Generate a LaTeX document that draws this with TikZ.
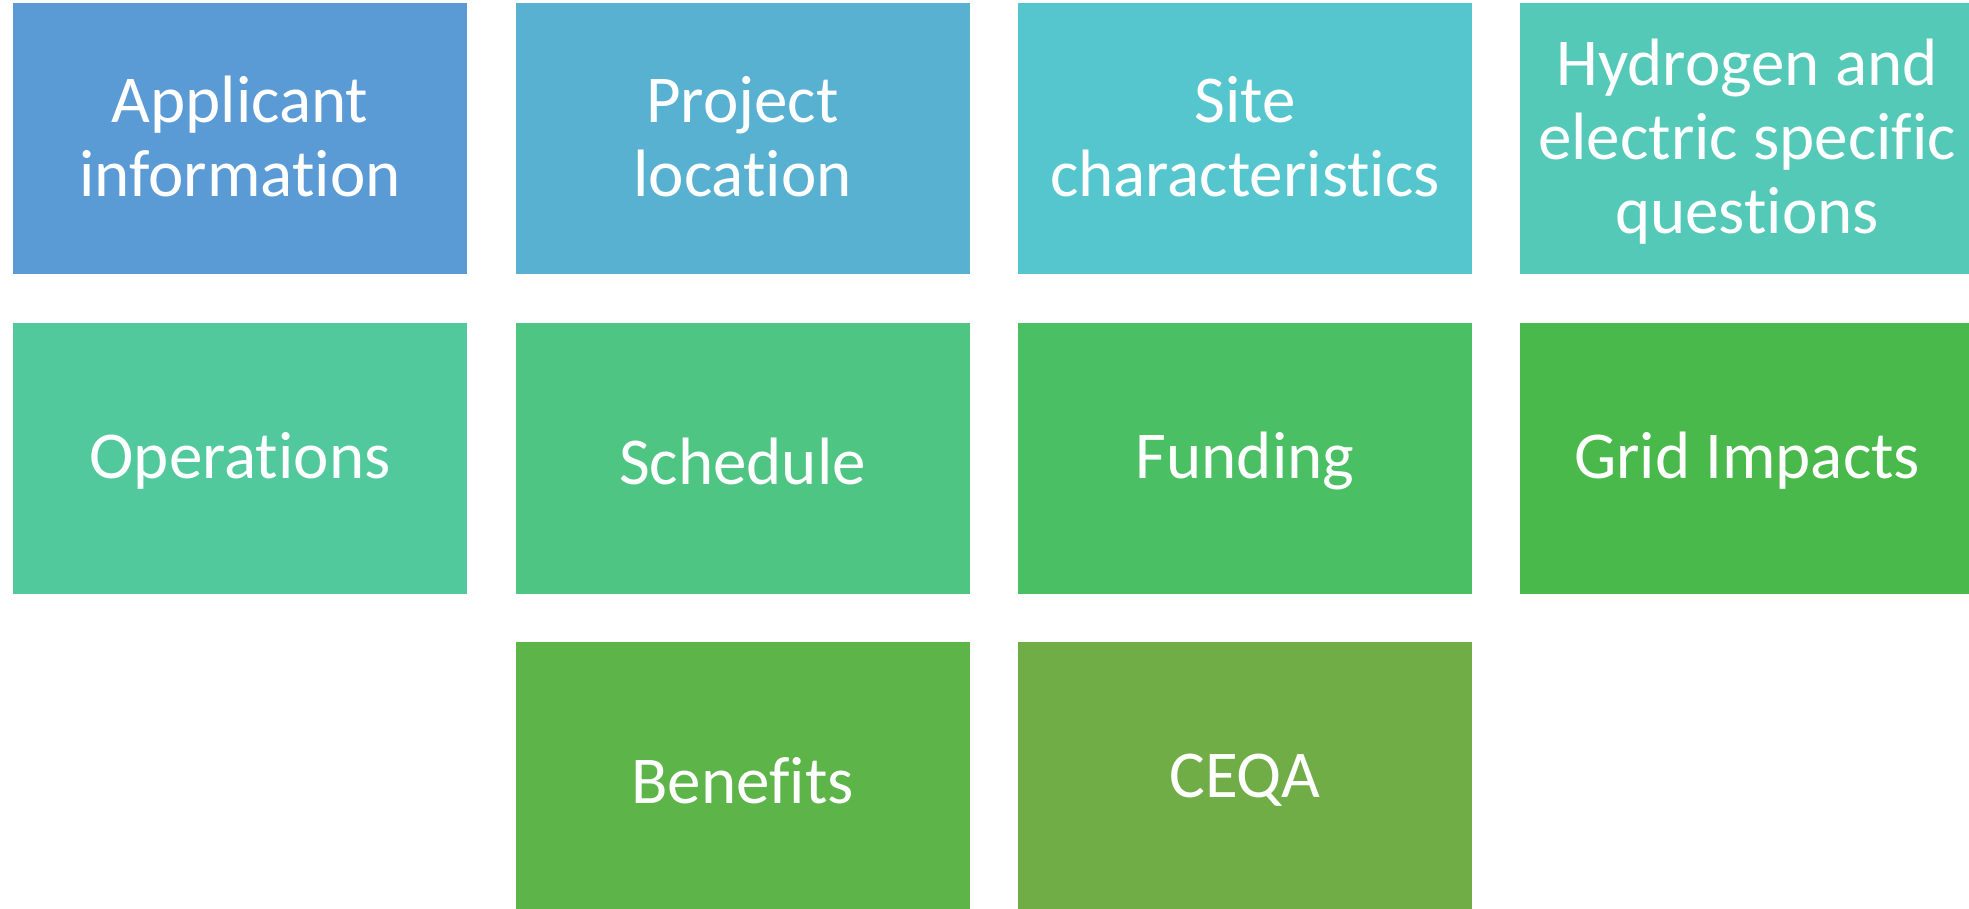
\documentclass[tikz,border=0pt]{standalone}
\usepackage{fontspec}
\setmainfont{Carlito}[Ligatures={NoCommon}]
\definecolor{cA}{HTML}{5B9BD5}
\definecolor{cB}{HTML}{59B1D1}
\definecolor{cC}{HTML}{56C6CE}
\definecolor{cD}{HTML}{54C9B8}
\definecolor{cE}{HTML}{51C99D}
\definecolor{cF}{HTML}{4EC582}
\definecolor{cG}{HTML}{4ABF64}
\definecolor{cH}{HTML}{48B94A}
\definecolor{cI}{HTML}{5DB449}
\definecolor{cJ}{HTML}{70AD47}
\tikzset{
  tile/.style={rectangle, draw=none, minimum width=454pt, minimum height=271pt,
    inner sep=0pt},
  tiletext/.style={align=center, text=white, inner sep=0pt, yshift=-3pt,
    font=\fontsize{67}{74}\selectfont},
  twoline/.style={tiletext, yshift=5pt}
}
\begin{document}
\begin{tikzpicture}[x=1pt,y=1pt]
\useasboundingbox (0,0) rectangle (1969,-909);
\clip (0,0) rectangle (1969,-909);
\fill[white] (0,0) rectangle (1969,-909);
\node[tile, fill=cA, label={[twoline]center:{Applicant\\information}}] (applicant) at (240,-138.5) {};
\node[tile, fill=cB, label={[twoline]center:{Project\\location}}] (location) at (742.5,-138.5) {};
\node[tile, fill=cC, label={[twoline]center:{Site\\characteristics}}] (site) at (1245,-138.5) {};
\node[tile, fill=cD, label={[tiletext]center:{Hydrogen and\\electric specific\\questions}}] (hydrogen) at (1747,-138.5) {};
\node[tile, fill=cE, label={[tiletext]center:{Operations}}] (operations) at (240,-458) {};
\node[tile, fill=cF, label={[tiletext]center:{Schedule}}] (schedule) at (742.5,-458) {};
\node[tile, fill=cG, label={[tiletext]center:{Funding}}] (funding) at (1245,-458) {};
\node[tile, fill=cH, label={[tiletext]center:{Grid Impacts}}] (grid) at (1747,-458) {};
\node[tile, fill=cI, label={[tiletext]center:{Benefits}}] (benefits) at (742.5,-777.5) {};
\node[tile, fill=cJ, label={[tiletext]center:{CEQA}}] (ceqa) at (1245,-777.5) {};
\end{tikzpicture}
\end{document}
